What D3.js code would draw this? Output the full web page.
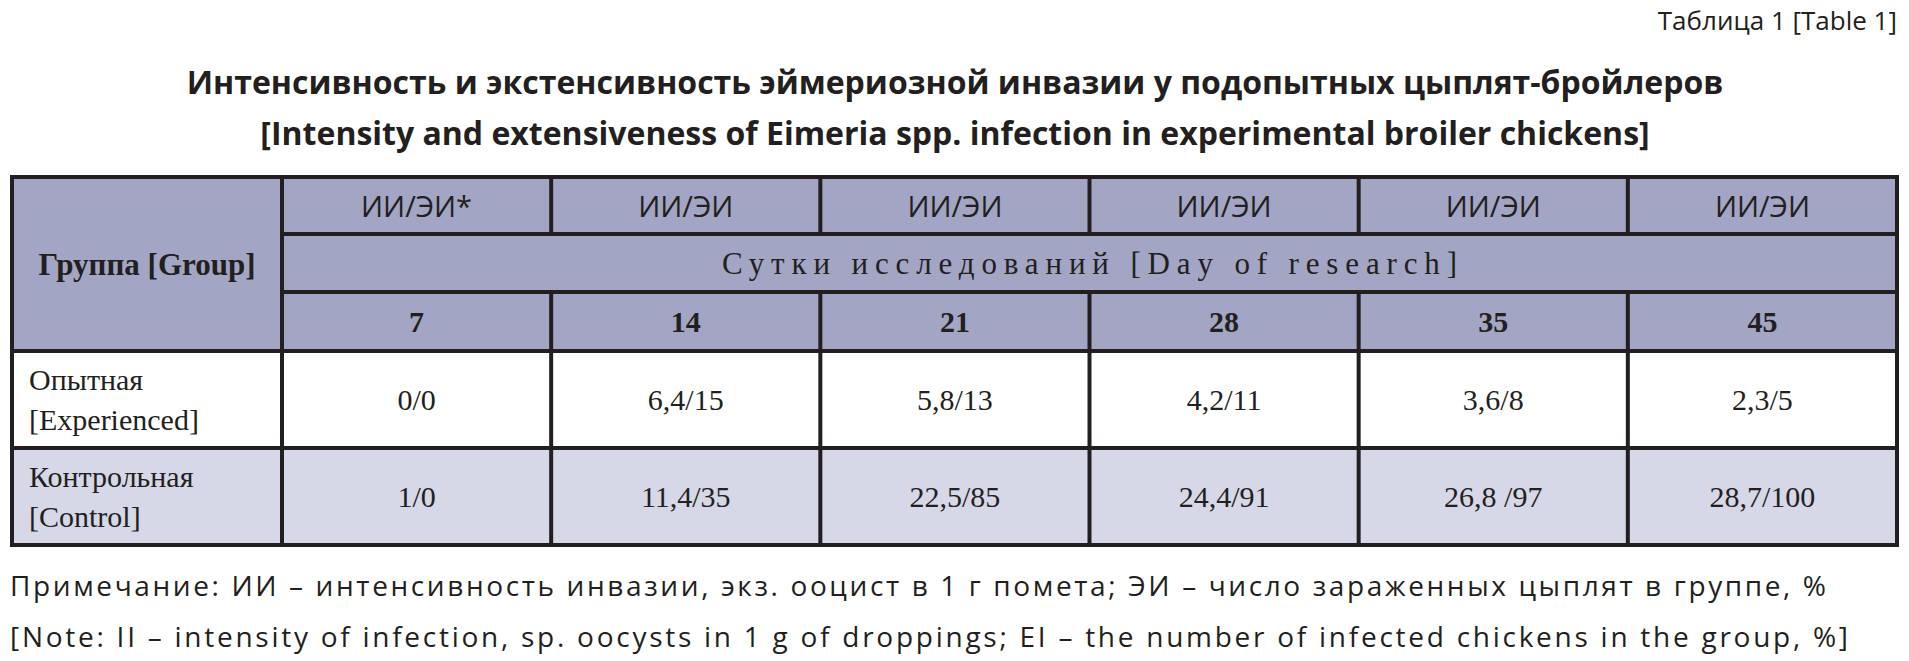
<!DOCTYPE html>
<html><head><meta charset="utf-8">
<script src="https://cdn.jsdelivr.net/npm/d3@7"></script>
<style>body{margin:0;background:#fff}</style>
</head><body>
<svg id="chart" width="1909" height="661"></svg>
<script>
var days = ["7", "14", "21", "28", "35", "45"];
var metricLabels = ["ИИ/ЭИ*", "ИИ/ЭИ", "ИИ/ЭИ", "ИИ/ЭИ", "ИИ/ЭИ", "ИИ/ЭИ"];
var groups = [["Опытная", "[Experienced]"], ["Контрольная", "[Control]"]];
var experienced = ["0/0", "6,4/15", "5,8/13", "4,2/11", "3,6/8", "2,3/5"];
var control = ["1/0", "11,4/35", "22,5/85", "24,4/91", "26,8 /97", "28,7/100"];
var rowsData = [experienced, control];

var svg = d3.select("#chart");
var left = 12, right = 1897, firstW = 270;
var x = d3.scaleBand().domain(d3.range(days.length)).range([left + firstW, right]);
var rowY = [177, 234, 292, 351, 448, 545];
var head = "#a2a5c3", ctrl = "#d6d7e7", line = "#231f20";
var serif = "'Liberation Serif', 'DejaVu Serif', serif";
var sans = "'Open Sans', 'Noto Sans', sans-serif";

svg.append("text").attr("x", 1897).attr("y", 30).attr("text-anchor", "end")
  .style("font-family", sans).style("font-size", "26px").attr("fill", "#231f20")
  .text("Таблица 1 [Table 1]");
svg.append("text").attr("x", 955).attr("y", 94).attr("text-anchor", "middle")
  .style("font-family", sans).style("font-size", "32px").style("font-weight", "bold").attr("fill", "#231f20")
  .text("Интенсивность и экстенсивность эймериозной инвазии у подопытных цыплят-бройлеров");
svg.append("text").attr("x", 955).attr("y", 145).attr("text-anchor", "middle")
  .style("font-family", sans).style("font-size", "32px").style("font-weight", "bold").attr("fill", "#231f20")
  .text("[Intensity and extensiveness of Eimeria spp. infection in experimental broiler chickens]");

// backgrounds
svg.append("rect").attr("x", left).attr("y", rowY[0]).attr("width", right - left).attr("height", rowY[3] - rowY[0]).attr("fill", head);
svg.append("rect").attr("x", left).attr("y", rowY[4]).attr("width", right - left).attr("height", rowY[5] - rowY[4]).attr("fill", ctrl);

function hline(y, x1, x2) {
  svg.append("line").attr("x1", x1).attr("x2", x2).attr("y1", y).attr("y2", y).attr("stroke", line).attr("stroke-width", 4);
}
function vline(xx, y1, y2) {
  svg.append("line").attr("x1", xx).attr("x2", xx).attr("y1", y1).attr("y2", y2).attr("stroke", line).attr("stroke-width", 4);
}
hline(rowY[0], left - 2, right + 2);
hline(rowY[1], left + firstW, right);
hline(rowY[2], left + firstW, right);
hline(rowY[3], left, right);
hline(rowY[4], left, right);
hline(rowY[5], left - 2, right + 2);
vline(left, rowY[0], rowY[5]);
vline(right, rowY[0], rowY[5]);
vline(left + firstW, rowY[0], rowY[5]);
days.forEach(function (d, i) {
  if (i > 0) {
    vline(x(i), rowY[0], rowY[1]);
    vline(x(i), rowY[2], rowY[5]);
  }
});

function txt(xx, y, s, fam, size, weight, anchor, len) {
  var t = svg.append("text").attr("x", xx).attr("y", y).attr("text-anchor", anchor || "middle")
    .attr("dominant-baseline", "central")
    .style("font-family", fam).style("font-size", size + "px").style("font-weight", weight || "normal")
    .attr("fill", "#231f20").text(s);
  if (len) t.attr("textLength", len).attr("lengthAdjust", "spacing");
}
var cx = function (i) { return x(i) + x.bandwidth() / 2; };
txt(left + firstW / 2, (rowY[0] + rowY[3]) / 2, "Группа [Group]", serif, 31, "bold");
metricLabels.forEach(function (m, i) { txt(cx(i), (rowY[0] + rowY[1]) / 2, m, sans, 29); });
txt((left + firstW + right) / 2, (rowY[1] + rowY[2]) / 2, "Сутки исследований [Day of research]", serif, 31, "normal", "middle", 735);
days.forEach(function (d, i) { txt(cx(i), (rowY[2] + rowY[3]) / 2, d, serif, 30, "bold"); });
rowsData.forEach(function (r, j) {
  var mid = (rowY[3 + j] + rowY[4 + j]) / 2;
  txt(left + 17, mid - 20, groups[j][0], serif, 30, "normal", "start");
  txt(left + 17, mid + 20, groups[j][1], serif, 30, "normal", "start");
  r.forEach(function (v, i) { txt(cx(i), mid, v, serif, 30); });
});

txt(10, 585, "Примечание: ИИ – интенсивность инвазии, экз. ооцист в 1 г помета; ЭИ – число зараженных цыплят в группе, %", sans, 28, "normal", "start", 1816);
txt(10, 636, "[Note: II – intensity of infection, sp. oocysts in 1 g of droppings; EI – the number of infected chickens in the group, %]", sans, 28, "normal", "start", 1838);
</script>
</body></html>
